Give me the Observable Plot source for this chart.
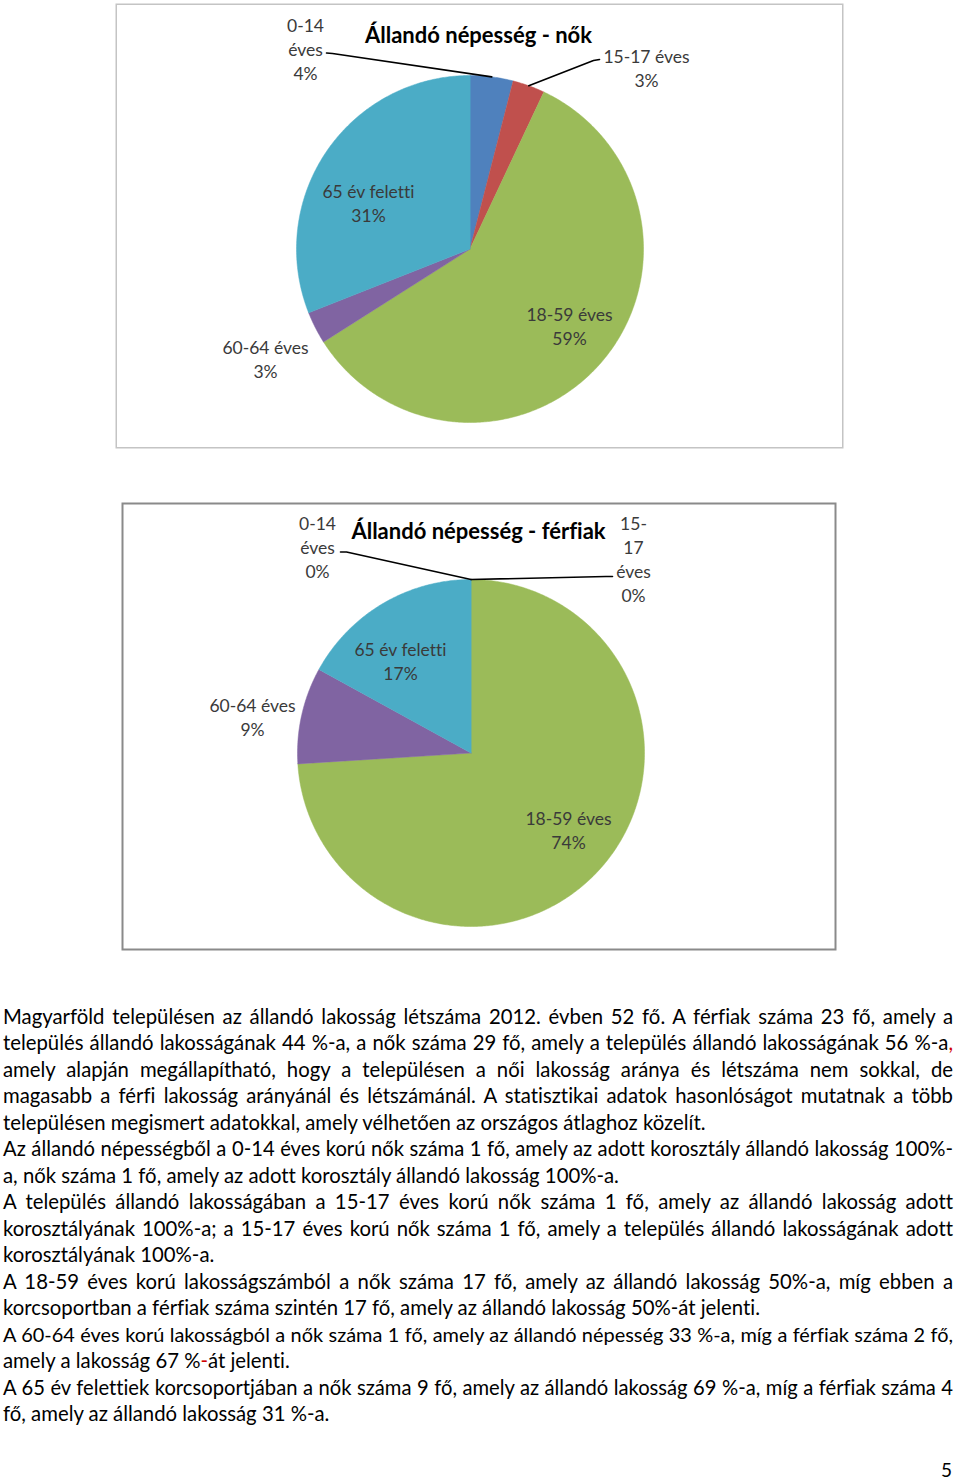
<!DOCTYPE html>
<html>
<head>
<meta charset="utf-8">
<script src="https://cdn.jsdelivr.net/npm/d3@7"></script>
<script src="https://cdn.jsdelivr.net/npm/@observablehq/plot@0.6"></script>
<style>
  html, body { margin: 0; padding: 0; background: #fff; }
  body { position: relative; width: 960px; height: 1479px; overflow: hidden; font-family: Lato, "Open Sans", sans-serif; font-variant-ligatures: none; font-feature-settings: "liga" 0, "clig" 0; }
  svg, svg text { font-variant-ligatures: none; font-feature-settings: "liga" 0, "clig" 0; }
  .chart { position: absolute; }
  .line { position: absolute; left: 3px; width: 950px; color: #000; white-space: normal; overflow: visible; }
  .red { color: #d00000; }
</style>
</head>
<body>
<div id="c1" class="chart" style="left:115px;top:3px"></div>
<div id="c2" class="chart" style="left:121px;top:502px"></div>
<div id="text"></div>
<div id="pagenum" style="position:absolute;left:941px;top:1460px;font-size:19px;line-height:19px;color:#000;">5</div>
<script>
// ---- data ----
const categories = ["0-14 éves", "15-17 éves", "18-59 éves", "60-64 éves", "65 év feletti"];
const womenPct = [4, 3, 59, 3, 31];
const menPct = [0, 0, 74, 9, 17];
const sliceColors = ["#4F81BD", "#C0504D", "#9BBB59", "#8064A2", "#4BACC6"];
const womenTitle = "Állandó népesség - nők";
const menTitle = "Állandó népesség - férfiak";
const womenLabelText = ["0-14\néves", "15-17 éves", "18-59 éves", "60-64 éves", "65 év feletti"];
const menLabelText = ["0-14\néves", "15-\n17\néves", "18-59 éves", "60-64 éves", "65 év feletti"];

// ---- layout (pixels relative to pie centre) ----
const womenLayout = {
  width: 728, height: 445, cx: 354.5, cy: 245.5, r: 173.5,
  frameStroke: "#c4c4c4", frameWidth: 1.5,
  title: [8.5, -213.5],
  labels: [[-164.5, -201], [176.5, -181.5], [99.5, 76.5], [-204.5, 109.5], [-101.5, -46.5]],
  leaders: { 0: [[-143.5, -196], [-137.5, -195.5]], 1: [[129.5, -189.5], [123.5, -188.5]] }
};
const menLayout = {
  width: 715, height: 448, cx: 349.5, cy: 250.5, r: 173.5,
  frameStroke: "#8a8a8a", frameWidth: 2,
  title: [7.5, -221.5],
  labels: [[-153.5, -206.5], [162.5, -194.5], [97.5, 76.5], [-218.5, -36.5], [-70.5, -92.5]],
  leaders: { 0: [[-130.5, -201], [-124.5, -201]], 1: [[141.5, -176.5], [135, -176.5]] }
};

function pieChart(values, labelText, title, L) {
  const total = d3.sum(values);
  let acc = 0;
  const slices = values.map((v, i) => {
    const a0 = acc / total * 2 * Math.PI;
    acc += v;
    const a1 = acc / total * 2 * Math.PI;
    return {cat: categories[i], v, a0, a1, mid: (a0 + a1) / 2, i};
  });
  const poly = [];
  for (const s of slices) {
    if (s.v <= 0) continue;
    poly.push({cat: s.cat, x: 0, y: 0});
    const n = Math.max(2, Math.ceil((s.a1 - s.a0) / (Math.PI / 360)));
    for (let k = 0; k <= n; k++) {
      const a = s.a0 + (s.a1 - s.a0) * k / n;
      poly.push({cat: s.cat, x: Math.sin(a), y: Math.cos(a)});
    }
  }
  const px = (p) => ({x: p[0] / L.r, y: -p[1] / L.r});
  const labels = slices.map((s, i) => ({
    ...px(L.labels[i]),
    text: labelText[i] + "\n" + Math.round(s.v / total * 100) + "%"
  }));
  const leaderPts = [];
  for (const k of Object.keys(L.leaders)) {
    const s = slices[+k];
    const pts = L.leaders[k].map(px);
    pts.push({x: Math.sin(s.mid), y: Math.cos(s.mid)});
    pts.forEach(p => leaderPts.push({...p, id: k}));
  }
  const xd = [-L.cx / L.r, (L.width - L.cx) / L.r];
  const yd = [-(L.height - L.cy) / L.r, L.cy / L.r];
  return Plot.plot({
    width: L.width, height: L.height, margin: 0,
    x: {domain: xd, axis: null},
    y: {domain: yd, axis: null},
    color: {domain: categories, range: sliceColors},
    style: {fontFamily: "Lato, 'Open Sans', sans-serif", background: "#fff", overflow: "visible", fontVariantLigatures: "none"},
    marks: [
      Plot.frame({stroke: L.frameStroke, strokeWidth: L.frameWidth, inset: L.frameWidth / 2}),
      Plot.line(poly, {x: "x", y: "y", z: "cat", fill: "cat", stroke: "cat", strokeWidth: 0.5, curve: "linear-closed"}),
      Plot.line(leaderPts, {x: "x", y: "y", z: "id", stroke: "#000", strokeWidth: 1.6}),
      Plot.text(labels, {x: "x", y: "y", text: "text", fontSize: 17.5, lineHeight: 1.37, fill: "#3a3a3a", textAnchor: "middle", lineAnchor: "middle"}),
      Plot.text([{...px(L.title), t: title}], {x: "x", y: "y", text: "t", fontSize: 22, fontWeight: "bold", fill: "#000", textAnchor: "middle", lineAnchor: "middle"})
    ]
  });
}

document.getElementById("c1").appendChild(pieChart(womenPct, womenLabelText, womenTitle, womenLayout));
document.getElementById("c2").appendChild(pieChart(menPct, menLabelText, menTitle, menLayout));

// ---- body text ----
const bodyLines = [
  ["Magyarföld településen az állandó lakosság létszáma 2012. évben 52 fő. A férfiak száma 23 fő, amely a", true],
  ["település állandó lakosságának 44 %-a, a nők száma 29 fő, amely a település állandó lakosságának 56 %-a<span class='red'>,</span>", true],
  ["amely alapján megállapítható, hogy a településen a női lakosság aránya és létszáma nem sokkal, de", true],
  ["magasabb a férfi lakosság arányánál és létszámánál. A statisztikai adatok hasonlóságot mutatnak a több", true],
  ["településen megismert adatokkal, amely vélhetően az országos átlaghoz közelít.", false],
  ["Az állandó népességből a 0-14 éves korú nők száma 1 fő, amely az adott korosztály állandó lakosság 100%-", true],
  ["a, nők száma 1 fő, amely az adott korosztály állandó lakosság 100%-a.", false],
  ["A település állandó lakosságában a 15-17 éves korú nők száma 1 fő, amely az állandó lakosság adott", true],
  ["korosztályának 100%-a; a 15-17 éves korú nők száma 1 fő, amely a település állandó lakosságának adott", true],
  ["korosztályának 100%-a.", false],
  ["A 18-59 éves korú lakosságszámból a nők száma 17 fő, amely az állandó lakosság 50%-a, míg ebben a", true],
  ["korcsoportban a férfiak száma szintén 17 fő, amely az állandó lakosság 50%-át jelenti.", false],
  ["A 60-64 éves korú lakosságból a nők száma 1 fő, amely az állandó népesség 33 %-a, míg a férfiak száma 2 fő,", true],
  ["amely a lakosság 67 %<span class='red'>-</span>át jelenti.", false],
  ["A 65 év felettiek korcsoportjában a nők száma 9 fő, amely az állandó lakosság 69 %-a, míg a férfiak száma 4", true],
  ["fő, amely az állandó lakosság 31 %-a.", false]
];
const ctx = document.createElement("canvas").getContext("2d");
const fam = "Lato, 'Open Sans', sans-serif";
ctx.font = "20px " + fam;
const strip = s => s.replace(/<[^>]+>/g, "");
const refW = ctx.measureText(strip(bodyLines[4][0])).width;
const baseSize = 20 * 704 / refW;
const lh = 26.47;
const host = document.getElementById("text");
bodyLines.forEach(([html, just], i) => {
  const d = document.createElement("div");
  d.className = "line";
  let size = baseSize;
  ctx.font = size + "px " + fam;
  const w = ctx.measureText(strip(html)).width;
  if (w > 944) size = size * 944 / w;
  d.style.fontSize = size + "px";
  d.style.lineHeight = lh + "px";
  d.style.height = lh + "px";
  d.style.top = (1003 + i * lh) + "px";
  d.style.textAlign = just ? "justify" : "left";
  d.style.textAlignLast = just ? "justify" : "left";
  d.innerHTML = html;
  host.appendChild(d);
});
</script>
</body>
</html>
